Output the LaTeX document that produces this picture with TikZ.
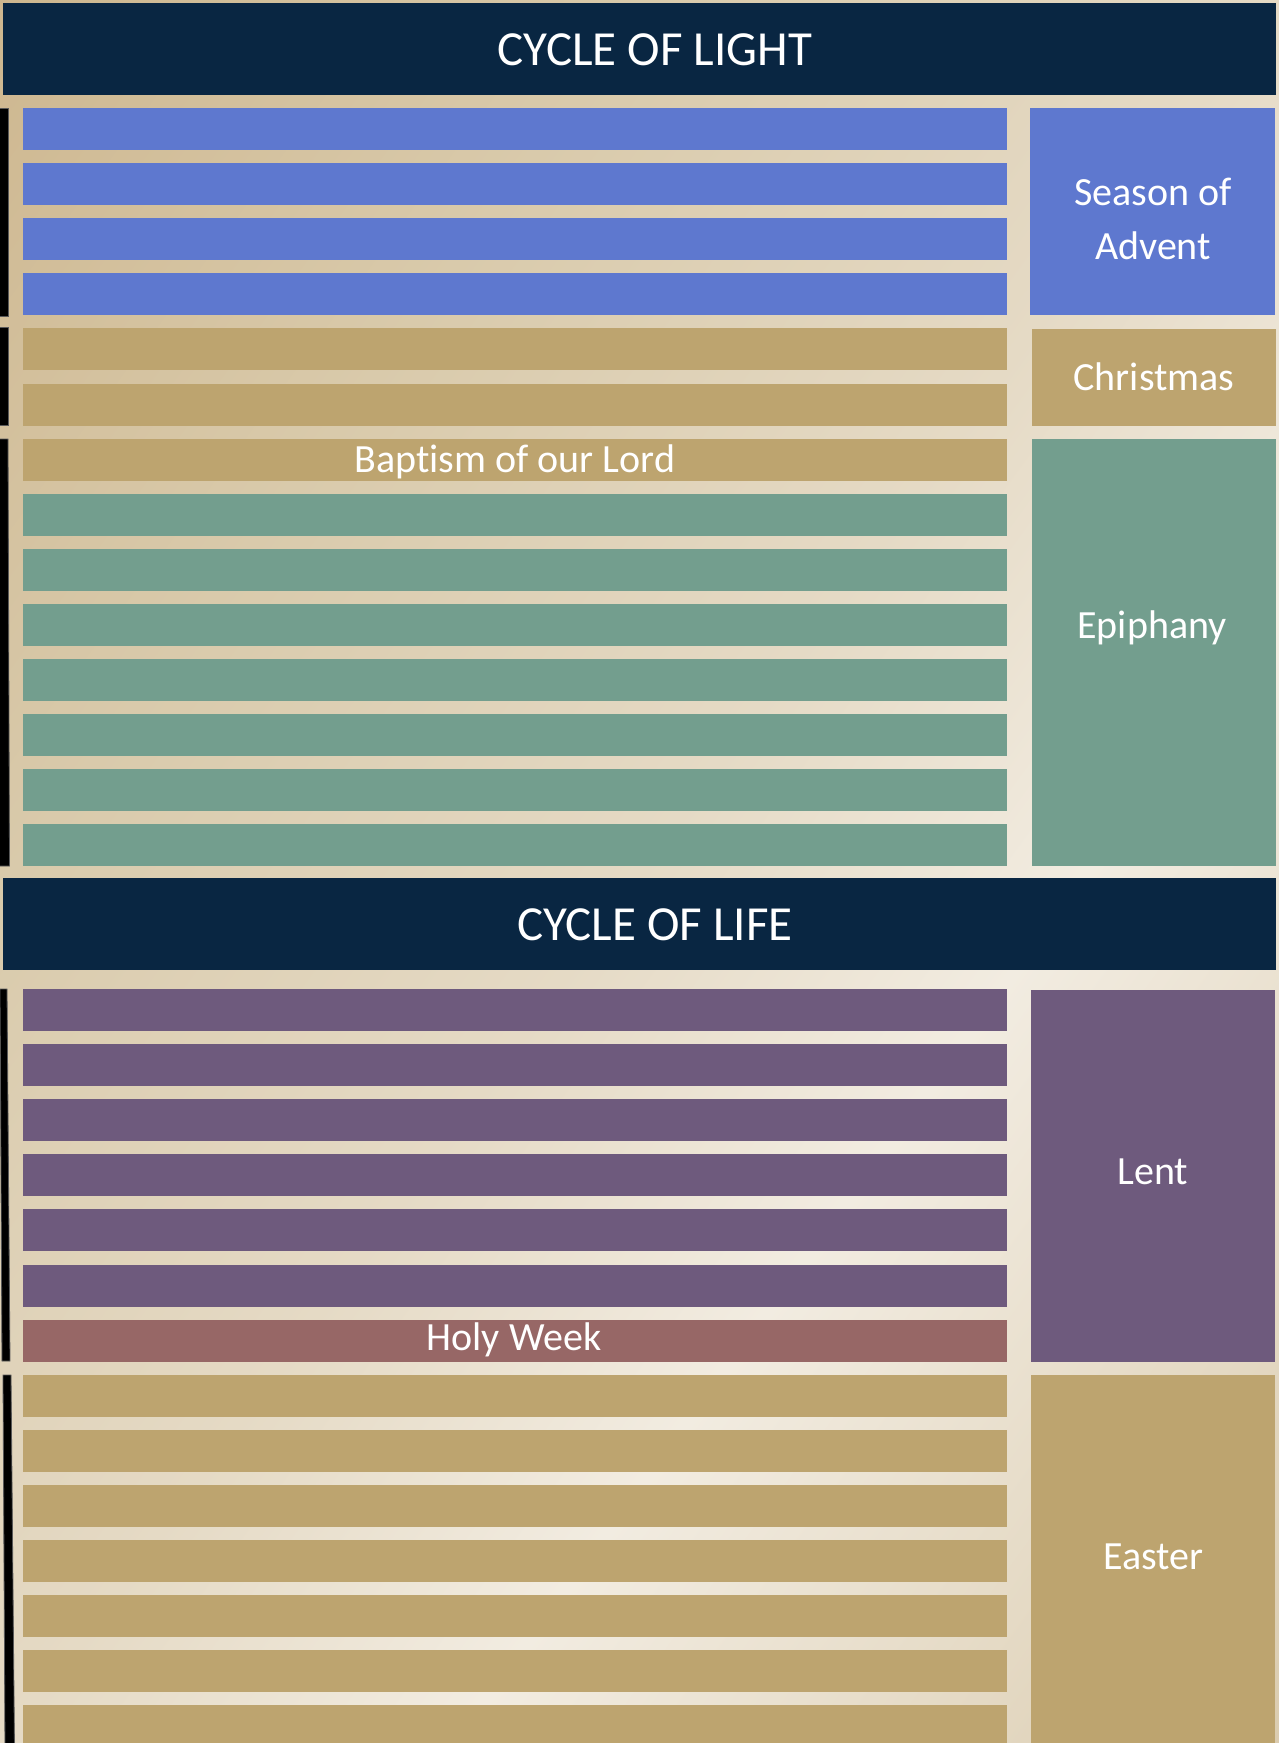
\documentclass[tikz,border=0pt]{standalone}
\usepackage{fontspec}
\setmainfont{Carlito}[Ligatures={NoCommon}]
\definecolor{navy}{HTML}{092642}
\definecolor{advblue}{HTML}{5E78CF}
\definecolor{goldbar}{HTML}{BDA46F}
\definecolor{epigreen}{HTML}{739E8E}
\definecolor{lentpurple}{HTML}{6E5A7D}
\definecolor{holyred}{HTML}{976766}
\definecolor{bgA}{HTML}{CDB68E}
\definecolor{bgB}{HTML}{D9CAAB}
\definecolor{bgC}{HTML}{E5DAC5}
\definecolor{bgD}{HTML}{F2ECE1}
\definecolor{bgE}{HTML}{DACBAE}
\pgfdeclarehorizontalshading{goldbg}{100bp}{color(0bp)=(bgA); color(25bp)=(bgA); color(38bp)=(bgB); color(50bp)=(bgC); color(58.6bp)=(bgD); color(75bp)=(bgE); color(100bp)=(bgE)}
\tikzset{
  lbl/.style={text=white, anchor=base, inner sep=0pt, font=\fontsize{40}{48}\selectfont},
  hdr/.style={text=white, anchor=base, inner sep=0pt, font=\fontsize{49}{58}\selectfont},
  bracket/.style={fill=black, draw=black!65, line width=0.8pt},
}
\begin{document}
\begin{tikzpicture}[x=1pt,y=-1pt]
\useasboundingbox (0,0) rectangle (1279,1743);
\begin{scope}
\clip (0,0) rectangle (1279,1743);
\shade[shading=goldbg, shading angle=-36] (-410.5,-178.5) rectangle (1689.5,1921.5);
% headers
\fill[navy] (3,3) rectangle (1276,95);
\fill[navy] (3,878) rectangle (1276,970);
% cycle of light bars
\foreach \i in {0,...,3} \fill[advblue] (23,{108+55.1*\i}) rectangle (1007,{150+55.1*\i});
\foreach \i in {4,5,6} \fill[goldbar] (23,{108+55.1*\i}) rectangle (1007,{150+55.1*\i});
\foreach \i in {7,...,13} \fill[epigreen] (23,{108+55.1*\i}) rectangle (1007,{150+55.1*\i});
% cycle of life bars
\foreach \i in {0,...,5} \fill[lentpurple] (23,{989+55.1*\i}) rectangle (1007,{1031+55.1*\i});
\fill[holyred] (23,{989+55.1*6}) rectangle (1007,{1031+55.1*6});
\foreach \i in {7,...,13} \fill[goldbar] (23,{989+55.1*\i}) rectangle (1007,{1031+55.1*\i});
% season boxes
\fill[advblue] (1030,108) rectangle (1275,315);
\fill[goldbar] (1032,329) rectangle (1276,426);
\fill[epigreen] (1032,439) rectangle (1276,866);
\fill[lentpurple] (1031,990) rectangle (1275,1362);
\fill[goldbar] (1031,1375) rectangle (1275,1750);
% left brackets
\path[bracket] (-2,108) rectangle (8,316);
\path[bracket] (-2,327) rectangle (8,425);
\path[bracket] (-2,439) -- (8,439) -- (9.5,866) -- (-2,866) -- cycle;
\path[bracket] (0,989) -- (7,989) -- (10,1361) -- (2,1361) -- cycle;
\path[bracket] (3,1375) -- (11,1375) -- (14.5,1750) -- (5,1750) -- cycle;
\end{scope}
% texts
\node[hdr] (light) at (655,65) {CYCLE OF LIGHT};
\node[hdr] (life) at (655,940) {CYCLE OF LIFE};
\node[lbl] (advent1) at (1153,205) {Season of};
\node[lbl] (advent2) at (1153,259) {Advent};
\node[lbl] (christmas) at (1154,390) {Christmas};
\node[lbl] (baptism) at (515,472) {Baptism of our Lord};
\node[lbl] (epiphany) at (1152,638) {Epiphany};
\node[lbl] (lent) at (1153,1184) {Lent};
\node[lbl] (holyweek) at (514,1350) {Holy Week};
\node[lbl] (easter) at (1153.5,1569) {Easter};
\end{tikzpicture}
\end{document}
